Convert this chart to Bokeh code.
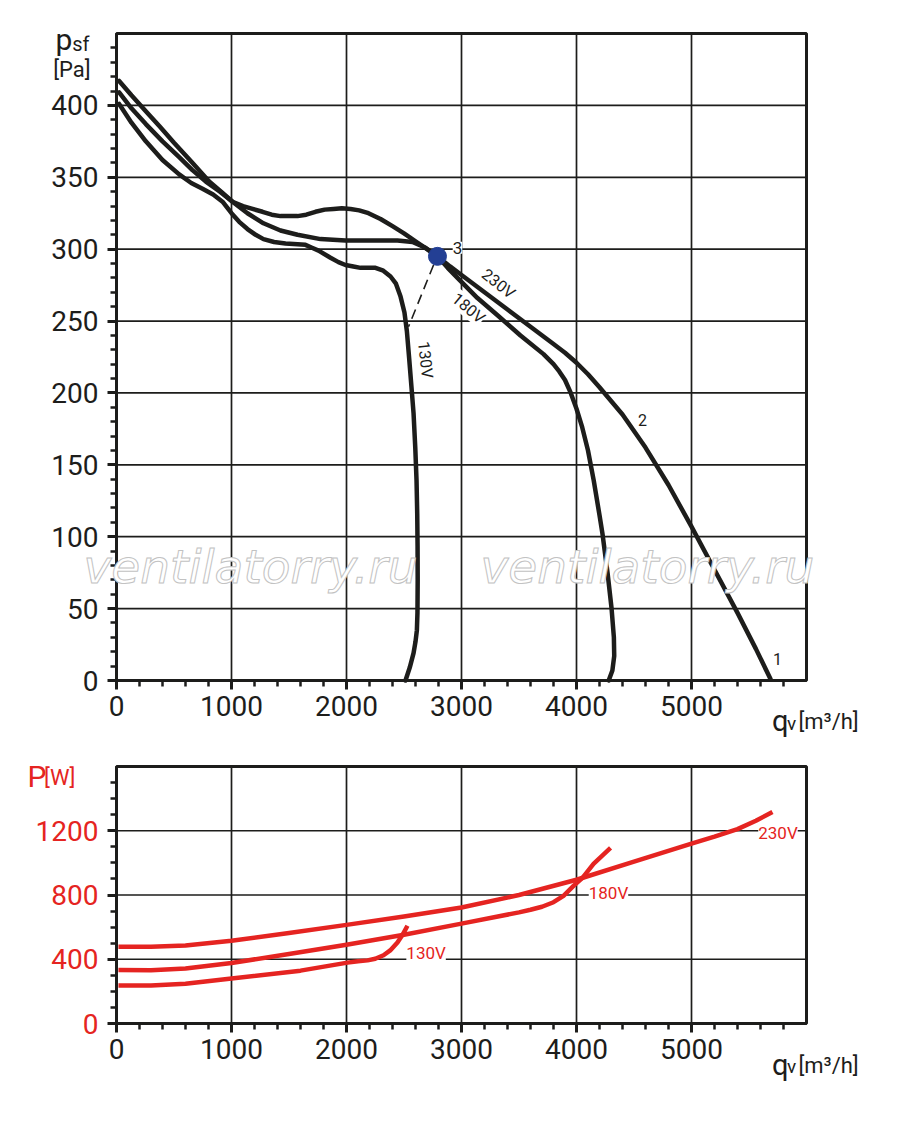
from bokeh.plotting import figure
from bokeh.layouts import column
from bokeh.models import FixedTicker, Label, Range1d
from bokeh.embed import file_html
from bokeh.resources import INLINE

FONT = "Roboto"
INK = "#1d1d1b"
RED = "#e52421"
DOT = "#233f94"

# --- pressure curves psf [Pa] vs qv [m3/h] ---
q_230 = [23, 130, 255, 380, 500, 650, 806, 910, 1009, 1100, 1183, 1270, 1350, 1426,
         1500, 1574, 1650, 1730, 1810, 1887, 1960, 2035, 2110, 2191, 2296, 2400, 2500,
         2600, 2700, 2791, 2900, 3000, 3200, 3400, 3600, 3800, 3900, 4000, 4100, 4200,
         4400, 4600, 4800, 5000, 5200, 5400, 5560, 5687]
p_230 = [417, 407, 396, 385, 374, 361, 347, 340, 333, 330, 328, 326, 324, 323,
         323, 323, 324, 326, 327.5, 328, 328.5, 328, 327, 325, 321, 316, 311,
         305.5, 300, 295, 288, 282, 270, 258, 246, 234, 228, 221, 213, 204,
         185, 162, 136, 107, 77, 47, 22, 1]

q_180 = [23, 130, 255, 400, 545, 660, 777, 900, 1009, 1139, 1278, 1426, 1574, 1774,
         1991, 2209, 2443, 2574, 2687, 2791, 2880, 2965, 3139, 3313, 3513, 3713, 3800,
         3850, 3900, 3950, 4000, 4050, 4100, 4150, 4200, 4226, 4270, 4305, 4325, 4328,
         4312, 4280]
p_180 = [409, 398, 387, 375, 364, 355, 347, 340, 333, 325, 318, 313, 310, 307,
         306, 306, 306, 305, 301, 295, 287, 280, 266, 254, 240, 227, 220,
         215, 209, 200, 189, 176, 160, 139, 115, 102, 75, 50, 30, 17,
         7, 0]

q_130 = [23, 130, 255, 400, 545, 650, 748, 840, 922, 1000, 1067, 1139, 1210, 1278,
         1370, 1470, 1643, 1700, 1757, 1861, 1930, 1991, 2060, 2122, 2252, 2320, 2383,
         2430, 2470, 2504, 2525, 2545, 2565, 2583, 2598, 2609, 2615, 2618, 2619, 2617,
         2612, 2600, 2583, 2550, 2513]
p_130 = [401, 388, 375, 362, 352, 346, 342, 338, 333, 325, 319, 314, 310, 307,
         305, 304, 303, 301, 299, 294, 291, 289, 288, 287, 287, 285, 281,
         276, 267, 256, 243, 224, 204, 186, 162, 139, 116, 93, 70, 47,
         35, 27, 19, 9, 0]

# working point 3 and its leader
q_point = [2791]
p_point = [295]
q_leader = [2757, 2539]
p_leader = [289, 246]

# --- power curves P [W] vs qv [m3/h] ---
wq_230 = [17, 300, 600, 1000, 1500, 2000, 2500, 3000, 3500, 4000, 4500, 5000, 5200,
          5400, 5560, 5704]
w_230 = [478, 478, 485, 515, 563, 614, 666, 722, 800, 895, 1008, 1120, 1163,
         1210, 1262, 1317]

wq_180 = [17, 300, 600, 1000, 1500, 2000, 2500, 3000, 3500, 3600, 3700, 3800, 3887,
          3974, 4052, 4148, 4296]
w_180 = [333, 332, 343, 377, 433, 490, 553, 622, 692, 708, 727, 755, 795,
         857, 907, 994, 1093]

wq_130 = [17, 300, 600, 1000, 1600, 2009, 2100, 2183, 2250, 2322, 2380, 2443, 2490, 2530]
w_130 = [236, 236, 248, 280, 329, 379, 388, 393, 403, 425, 455, 505, 555, 609]

# axes extents and ticks
q_max = 6000
p_max = 450
w_max = 1600
q_ticks = [0, 1000, 2000, 3000, 4000, 5000]
q_minor = list(range(0, 6000, 200))
p_ticks = [0, 50, 100, 150, 200, 250, 300, 350, 400]
p_minor = list(range(0, 450, 10))
w_ticks = [0, 400, 800, 1200]
w_minor = list(range(0, 1600, 100))

# page layout in pixels (frame covers whole canvas; axes are pinned at 0)
W = 886
H_TOP, H_BOT = 740, 343
LEFT, RIGHT = 116, 80
BOT_PAD = 60


def padded(hi, span_px, before_px, after_px):
    k = hi / span_px
    return Range1d(-before_px * k, hi + after_px * k)


def base(height, y_hi, top_pad):
    span_y = height - top_pad - BOT_PAD
    p = figure(x_range=padded(q_max, W - LEFT - RIGHT, LEFT, RIGHT),
               y_range=padded(y_hi, span_y, BOT_PAD, top_pad),
               width=W, height=height, output_backend="svg", toolbar_location=None,
               min_border=0, min_border_left=0, min_border_right=0,
               min_border_top=0, min_border_bottom=0)
    p.outline_line_color = None
    p.background_fill_color = "white"
    p.border_fill_color = "white"
    p.xgrid.visible = False
    p.ygrid.visible = False
    return p


def style(p, y_hi, yt, ym, ygrid, label_color):
    # grid and frame box
    p.segment(x0=q_ticks[1:], y0=0, x1=q_ticks[1:], y1=y_hi,
              line_color=INK, line_width=1.7)
    p.segment(x0=0, y0=ygrid, x1=q_max, y1=ygrid, line_color=INK, line_width=1.7)
    p.quad(left=0, right=q_max, bottom=0, top=y_hi, fill_color=None,
           line_color=INK, line_width=3)
    p.xaxis.ticker = FixedTicker(ticks=q_ticks, minor_ticks=q_minor)
    p.yaxis.ticker = FixedTicker(ticks=yt, minor_ticks=ym)
    p.xaxis.fixed_location = 0
    p.yaxis.fixed_location = 0
    p.xaxis.bounds = (0, q_max)
    p.yaxis.bounds = (0, y_hi)
    for ax in (p.xaxis, p.yaxis):
        ax.axis_line_color = INK
        ax.axis_line_width = 3
        ax.major_tick_line_color = INK
        ax.minor_tick_line_color = INK
        ax.major_tick_line_width = 3
        ax.minor_tick_line_width = 2.5
        ax.major_tick_out = 9
        ax.major_tick_in = 0
        ax.minor_tick_out = 6
        ax.minor_tick_in = 0
        ax.major_label_text_font = FONT
        ax.major_label_text_font_size = "28px"
    p.xaxis.major_label_text_color = INK
    p.yaxis.major_label_text_color = label_color
    p.xaxis.major_label_standoff = 6
    p.yaxis.major_label_standoff = 9


def note(p, x, y, text, size, color=INK, angle=0, bg=None, align="center",
         baseline="middle"):
    p.add_layout(Label(x=x, y=y, text=text, text_font=FONT,
                       text_font_size=f"{size}px", text_color=color,
                       angle=angle, angle_units="deg",
                       text_align=align, text_baseline=baseline,
                       background_fill_color=bg))


def qv_title(p, y, dy):
    note(p, 5700, y, "q", 29, align="left", baseline="alphabetic")
    note(p, 5830, y - dy, "v", 19, align="left", baseline="alphabetic")
    note(p, 5930, y, "[m³/h]", 22, align="left", baseline="alphabetic")


# ---------------- top: pressure ----------------
p = base(H_TOP, p_max, 33)
style(p, p_max, p_ticks, p_minor, p_ticks[1:], INK)

# watermark
for wx in (1165, 4617):
    p.add_layout(Label(x=wx, y=79, text="ventilatorry.ru", text_font="DejaVu Sans",
                       text_font_size="47px", text_font_style="italic",
                       text_color="white", text_outline_color="#c2c2c2",
                       text_align="center", text_baseline="middle"))

p.line(q_230, p_230, line_color=INK, line_width=4.5, line_join="round", line_cap="round")
p.line(q_180, p_180, line_color=INK, line_width=4.5, line_join="round", line_cap="round")
p.line(q_130, p_130, line_color=INK, line_width=4.5, line_join="round", line_cap="round")
p.line(q_leader, p_leader, line_color=INK, line_width=1.6, line_dash="10 6")
p.scatter(q_point, p_point, size=18, fill_color=DOT, line_color=DOT)

note(p, 2965, 301, "3", 17, bg="white")
note(p, 3322, 276, "230V", 16, angle=-38)
note(p, 3061, 259, "180V", 16, angle=-40, bg="white")
note(p, 2687, 223, "130V", 16, angle=-84)
note(p, 4574, 181, "2", 16)
note(p, 5748, 15, "1", 16)

note(p, -530, 446, "p", 30, align="left", baseline="alphabetic")
note(p, -385, 443, "sf", 20, align="left", baseline="alphabetic")
note(p, -550, 425, "[Pa]", 22, align="left", baseline="alphabetic")
qv_title(p, -28.5, 1.5)

# ---------------- bottom: power ----------------
q = base(H_BOT, w_max, 26)
style(q, w_max, w_ticks, w_minor, w_ticks[1:], RED)

q.line(wq_230, w_230, line_color=RED, line_width=4.5, line_join="round", line_cap="butt")
q.line(wq_180, w_180, line_color=RED, line_width=4.5, line_join="round", line_cap="butt")
q.line(wq_130, w_130, line_color=RED, line_width=4.5, line_join="round", line_cap="butt")

note(q, 2692, 441, "130V", 17, color=RED, bg="white")
note(q, 4278, 814, "180V", 17, color=RED, bg="white")
note(q, 5752, 1186, "230V", 17, color=RED, bg="white")

note(q, -774, 1540, "P", 30, color=RED, align="left", baseline="alphabetic")
note(q, -630, 1530, "[W]", 22, color=RED, align="left", baseline="alphabetic")
qv_title(q, -261, 9)

layout = column(p, q)
open("out.html", "w").write(file_html(layout, INLINE))
